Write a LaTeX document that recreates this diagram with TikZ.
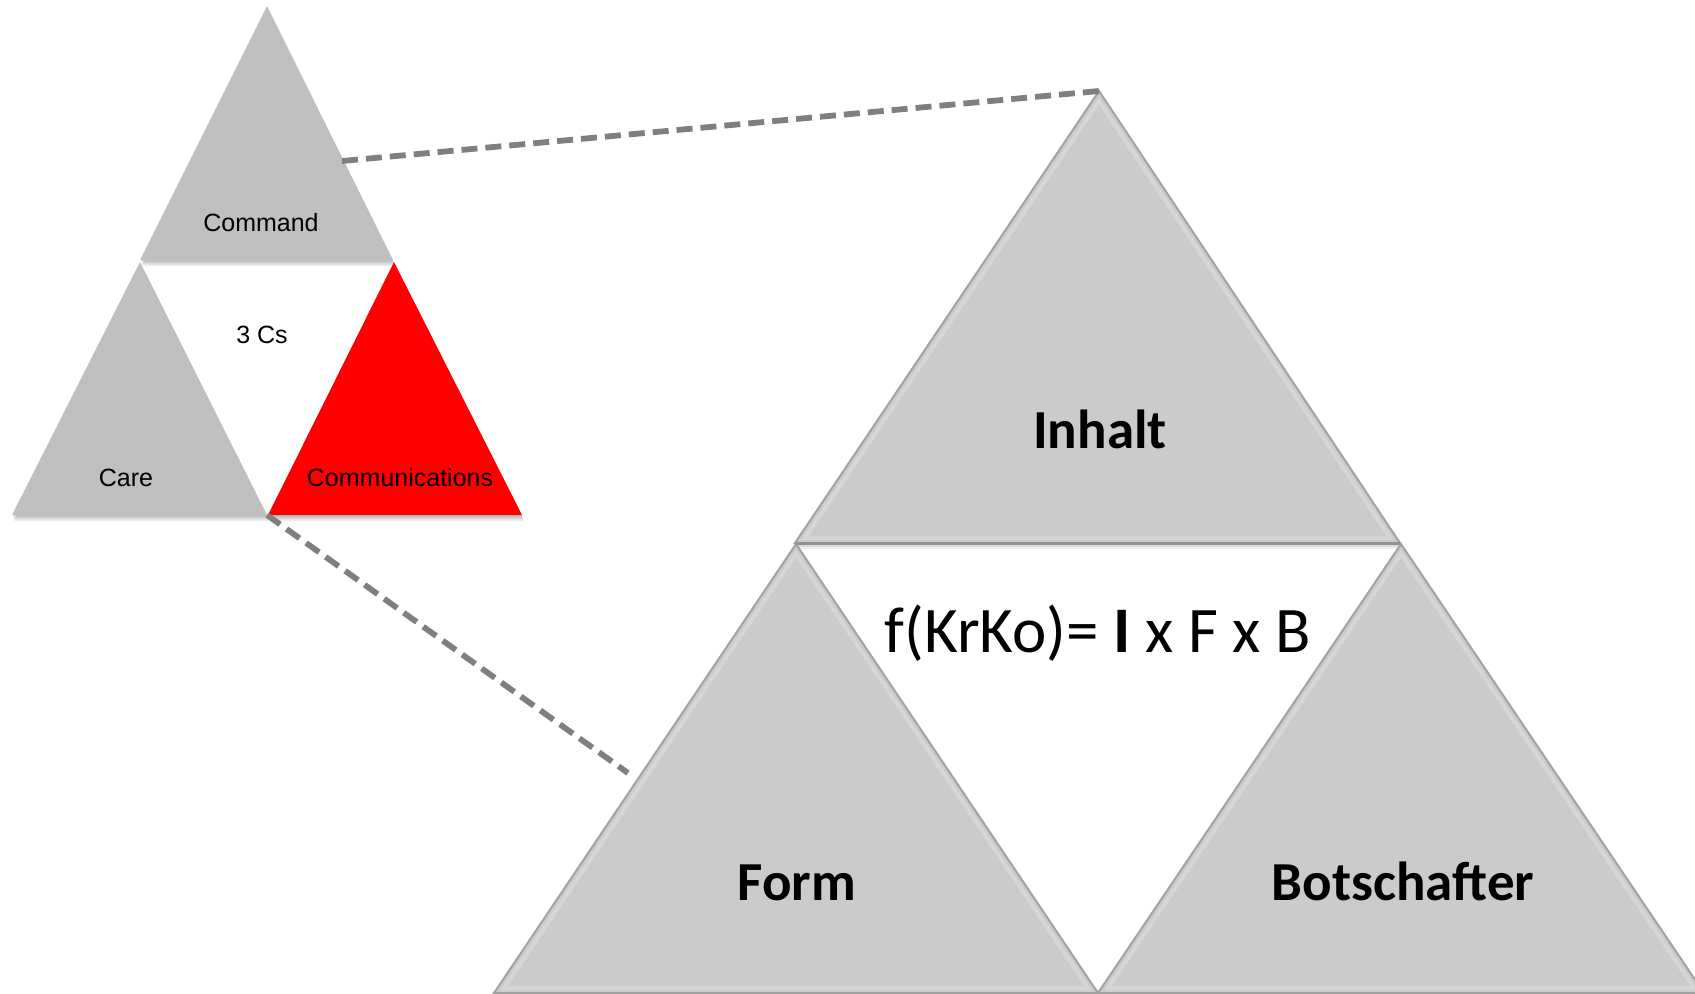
\documentclass[tikz,border=0pt]{standalone}
\usepackage{fontspec}
\newfontfamily\arialf{Liberation Sans}
\newfontfamily\calibf{Carlito}
\usetikzlibrary{calc}
\definecolor{smallgray}{HTML}{BFBFBF}
\definecolor{biggray}{HTML}{CBCBCB}
\definecolor{bevellight}{HTML}{D6D6D6}
\definecolor{beveldark}{HTML}{A2A2A2}
\definecolor{dashgray}{HTML}{7F7F7F}
\definecolor{commred}{HTML}{FF0000}
\begin{document}
\begin{tikzpicture}[x=0.5pt,y=-0.5pt,
  smalltri/.style={fill=smallgray},
  redtri/.style={fill=commred},
  softshadow/.style={fill=black,opacity=0.07},
  bigtri/.style={fill=biggray,draw=beveldark,line width=1pt,line join=miter},
  bevelline/.style={draw=bevellight,line width=2pt,line join=miter},
  basedark/.style={draw=beveldark!90!black,line width=1.5pt},
  dashline/.style={draw=dashgray,line width=2.9pt,dash pattern=on 8pt off 4pt},
  smalltext/.style={font=\arialf\fontsize{12.5}{15}\selectfont,inner sep=0pt,anchor=base},
  bigtext/.style={font=\calibf\bfseries\fontsize{27.5}{33}\selectfont,inner sep=0pt,anchor=base},
  formula/.style={font=\calibf\fontsize{32.5}{38}\selectfont,inner sep=0pt,anchor=base}
]
\useasboundingbox (0,0) rectangle (1695,993);
\clip (0,0) rectangle (1695,993);

% ---------- small triangle vertices ----------
\coordinate (cA) at (267,6);   \coordinate (cL) at (140,260); \coordinate (cR) at (393,260);
\coordinate (caA) at (140,262); \coordinate (caL) at (12,515); \coordinate (caR) at (267,515);
\coordinate (coA) at (394,262); \coordinate (coL) at (268,515); \coordinate (coR) at (522,515);

% ---------- big triangle vertices ----------
\coordinate (iA) at (1099,91);  \coordinate (iL) at (795,543);  \coordinate (iR) at (1400,543);
\coordinate (fA) at (796,544);  \coordinate (fL) at (494,993);  \coordinate (fR) at (1098,993);
\coordinate (bA) at (1401,544); \coordinate (bL) at (1098,993); \coordinate (bR) at (1704,993);

% ---------- soft shadows of the small triangles ----------
\foreach \s in {1,2,3,4}{
  \path[softshadow]
    ([shift={(0.5*\s,1.5*\s)}]cA) -- ([shift={(0.5*\s,1.5*\s)}]cL) -- ([shift={(0.5*\s,1.5*\s)}]cR) -- cycle
    ([shift={(0.5*\s,1.5*\s)}]caA) -- ([shift={(0.5*\s,1.5*\s)}]caL) -- ([shift={(0.5*\s,1.5*\s)}]caR) -- cycle
    ([shift={(0.5*\s,1.5*\s)}]coA) -- ([shift={(0.5*\s,1.5*\s)}]coL) -- ([shift={(0.5*\s,1.5*\s)}]coR) -- cycle;
}

% ---------- small triangles ----------
\path[smalltri] (cA) -- (cL) -- (cR) -- cycle;
\path[smalltri] (caA) -- (caL) -- (caR) -- cycle;
\path[redtri] (coA) -- (coL) -- (coR) -- cycle;

\node[smalltext] (tCommand) at (261,231) {Command};
\node[smalltext] (tThree) at (262,343) {3 Cs};
\node[smalltext] (tCare) at (126,486) {Care};
\node[smalltext] (tComm) at (400,486) {Communications};

% ---------- soft shadow under the big triangles ----------
\foreach \s in {1,2,3}{
  \path[softshadow]
    ([shift={(0,2*\s)}]iA) -- ([shift={(0,2*\s)}]iL) -- ([shift={(0,2*\s)}]iR) -- cycle;
}

% ---------- big triangles ----------
\path[bigtri] (iA) -- (iL) -- (iR) -- cycle;
\draw[bevelline] ($(iA)+(0,10)$) -- ($(iL)+(10,-5)$) -- ($(iR)+(-10,-5)$) -- cycle;
\draw[basedark] (iL) -- (iR);

\path[bigtri] (fA) -- (fL) -- (fR) -- cycle;
\draw[bevelline] ($(fA)+(0,10)$) -- ($(fL)+(10,-5)$) -- ($(fR)+(-10,-5)$) -- cycle;

\path[bigtri] (bA) -- (bL) -- (bR) -- cycle;
\draw[bevelline] ($(bA)+(0,10)$) -- ($(bL)+(10,-5)$) -- ($(bR)+(-10,-5)$) -- cycle;

\node[bigtext] (tInhalt) at (1100,448) {Inhalt};
\node[bigtext] (tForm) at (797,900) {Form};
\node[bigtext] (tBot) at (1403,900) {Botschafter};
\node[formula] (tFormula) at (1098,652) {f(KrKo)= {\bfseries I} x F x B};

% ---------- dashed connectors ----------
\coordinate (dUp) at (342,161);
\coordinate (dLow) at (628,773);
\draw[dashline] (dUp) -- (iA);
\draw[dashline] (caR) -- (dLow);
\end{tikzpicture}
\end{document}
